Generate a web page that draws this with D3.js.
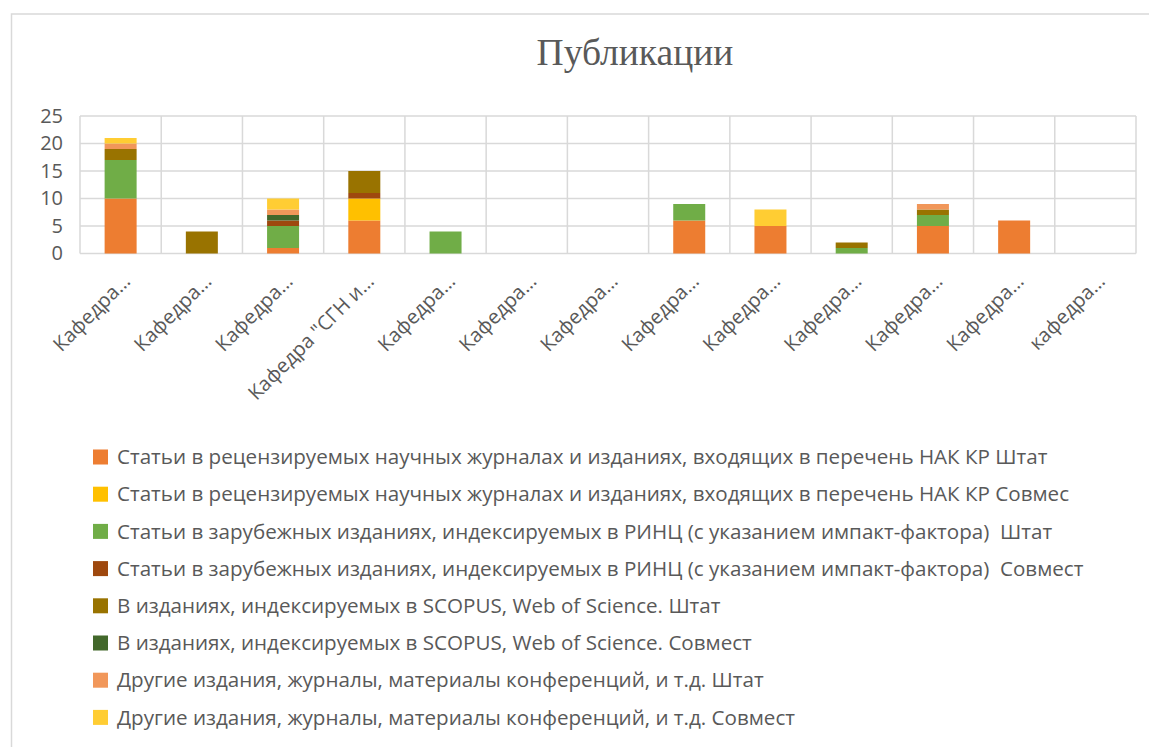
<!DOCTYPE html>
<html>
<head>
<meta charset="utf-8">
<script src="https://d3js.org/d3.v7.min.js"></script>
<style>
  body { margin: 0; background: #fff; }
  svg text { fill: #595959; white-space: pre; }
</style>
</head>
<body>
<div id="chart"></div>
<script>
// categories (truncated as on the chart)
var categories = ["Кафедра…", "Кафедра…", "Кафедра…", "Кафедра \"СГН и…", "Кафедра…", "Кафедра…",
  "Кафедра…", "Кафедра…", "Кафедра…", "Кафедра…", "Кафедра…", "Кафедра…", "кафедра…"];

var seriesNames = [
  "Статьи в рецензируемых научных журналах и изданиях, входящих в перечень НАК КР Штат",
  "Статьи в рецензируемых научных журналах и изданиях, входящих в перечень НАК КР Совмес",
  "Статьи в зарубежных изданиях, индексируемых в РИНЦ (с указанием импакт-фактора)  Штат",
  "Статьи в зарубежных изданиях, индексируемых в РИНЦ (с указанием импакт-фактора)  Совмест",
  "В изданиях, индексируемых в SCOPUS, Web of Science. Штат",
  "В изданиях, индексируемых в SCOPUS, Web of Science. Совмест",
  "Другие издания, журналы, материалы конференций, и т.д. Штат",
  "Другие издания, журналы, материалы конференций, и т.д. Совмест"
];

var nakShtat     = [10, 0, 1, 6, 0, 0, 0, 6, 5, 0, 5, 6, 0];
var nakSovm      = [0, 0, 0, 4, 0, 0, 0, 0, 0, 0, 0, 0, 0];
var rincShtat    = [7, 0, 4, 0, 4, 0, 0, 3, 0, 1, 2, 0, 0];
var rincSovm     = [0, 0, 1, 1, 0, 0, 0, 0, 0, 0, 0, 0, 0];
var scopusShtat  = [2, 4, 0, 4, 0, 0, 0, 0, 0, 1, 1, 0, 0];
var scopusSovm   = [0, 0, 1, 0, 0, 0, 0, 0, 0, 0, 0, 0, 0];
var otherShtat   = [1, 0, 1, 0, 0, 0, 0, 0, 0, 0, 1, 0, 0];
var otherSovm    = [1, 0, 2, 0, 0, 0, 0, 0, 3, 0, 0, 0, 0];

var yTicks = [0, 5, 10, 15, 20, 25];
var colors = ["#ED7D31", "#FFC000", "#70AD47", "#9E480E", "#997300", "#43682B", "#F1975A", "#FFCD33"];

var allSeries = [nakShtat, nakSovm, rincShtat, rincSovm, scopusShtat, scopusSovm, otherShtat, otherSovm];

// rows for d3.stack
var rows = categories.map(function(c, i) {
  var r = {idx: i};
  allSeries.forEach(function(s, k) { r["s" + k] = s[i]; });
  return r;
});
var keys = allSeries.map(function(s, k) { return "s" + k; });

var W = 1149, H = 747;
var margin = {top: 116, left: 80, right: 13};
var width = W - margin.left - margin.right,
    height = 253.5 - margin.top;

var svg = d3.select("#chart").append("svg")
  .attr("width", W).attr("height", H)
  .style("font-family", "'Open Sans', sans-serif");

// outer frame
svg.append("rect")
  .attr("x", 11.5).attr("y", 14)
  .attr("width", W + 20).attr("height", H + 20)
  .attr("fill", "none").attr("stroke", "#d9d9d9").attr("stroke-width", 1.5);

// title
svg.append("text")
  .attr("x", 635).attr("y", 65)
  .attr("text-anchor", "middle")
  .style("font-family", "'Liberation Serif', 'Times New Roman', serif")
  .style("font-size", "37.5px")
  .text("Публикации");

var g = svg.append("g").attr("transform", "translate(" + margin.left + "," + margin.top + ")");

var x = d3.scaleBand().domain(d3.range(categories.length)).range([0, width]).paddingInner(0).paddingOuter(0);
var y = d3.scaleLinear().domain([0, 25]).range([height, 0]);

// horizontal grid
g.append("g").selectAll("line").data(yTicks).join("line")
  .attr("x1", 0).attr("x2", width)
  .attr("y1", function(d) { return y(d); }).attr("y2", function(d) { return y(d); })
  .attr("stroke", "#d9d9d9").attr("stroke-width", 1.5);

// vertical grid at category boundaries
var bounds = d3.range(categories.length + 1).map(function(i) { return i * x.bandwidth(); });
g.append("g").selectAll("line").data(bounds).join("line")
  .attr("x1", function(d) { return d; }).attr("x2", function(d) { return d; })
  .attr("y1", 0).attr("y2", height)
  .attr("stroke", "#d9d9d9").attr("stroke-width", 1.5);

// y axis labels
var yAxis = g.append("g").call(d3.axisLeft(y).tickValues(yTicks).tickSize(0).tickPadding(17));
yAxis.select(".domain").remove();
yAxis.selectAll("text").style("font-size", "20px").attr("fill", "#595959").style("font-family", "'Open Sans', sans-serif");

// stacked bars
var stacked = d3.stack().keys(keys)(rows);
var barW = 32;
g.append("g").selectAll("g").data(stacked).join("g")
  .attr("fill", function(d, k) { return colors[k]; })
  .selectAll("rect").data(function(d) { return d; }).join("rect")
  .attr("x", function(d) { return x(d.data.idx) + x.bandwidth() / 2 - barW / 2; })
  .attr("width", barW)
  .attr("y", function(d) { return y(d[1]); })
  .attr("height", function(d) { return y(d[0]) - y(d[1]); });

// x labels, rotated
var xAxis = g.append("g").attr("transform", "translate(0," + height + ")")
  .call(d3.axisBottom(x).tickFormat(function(i) { return categories[i]; }).tickSize(0).tickPadding(0));
xAxis.select(".domain").remove();
xAxis.selectAll("text")
  .style("font-size", "20px").attr("fill", "#595959").style("font-family", "'Open Sans', sans-serif")
  .attr("text-anchor", "end")
  .attr("dy", "0.35em")
  .attr("transform", "translate(6,24) rotate(-45)");

// legend
var legend = svg.append("g").attr("transform", "translate(93,457)");
var item = legend.selectAll("g").data(seriesNames).join("g")
  .attr("transform", function(d, i) { return "translate(0," + (i * 37.2) + ")"; });
item.append("rect").attr("x", 0).attr("y", -7.5).attr("width", 15).attr("height", 15)
  .attr("fill", function(d, i) { return colors[i]; });
item.append("text").attr("x", 24).attr("dy", "0.35em")
  .style("font-size", "20.6px")
  .text(function(d) { return d; });
</script>
</body>
</html>
